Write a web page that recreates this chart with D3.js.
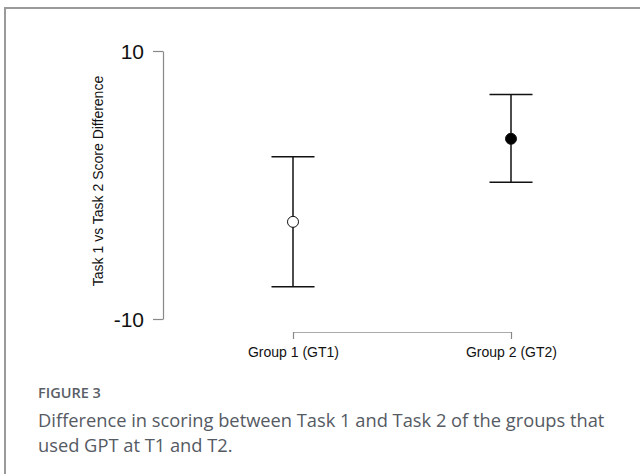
<!DOCTYPE html>
<html><head><meta charset="utf-8">
<script src="https://cdn.jsdelivr.net/npm/d3@7"></script>
<style>
html,body{margin:0;padding:0;background:#fff;}
svg{display:block;}
</style></head>
<body>
<svg id="chart" width="640" height="474"></svg>
<script>
const categories = ["Group 1 (GT1)", "Group 2 (GT2)"];
const means = [-2.75, 3.45];
const upper = [2.1, 6.75];
const lower = [-7.6, 0.2];
const filled = [false, true];
const yTicks = [-10, 10];
const yTitle = "Task 1 vs Task 2 Score Difference";
const figLabel = "FIGURE 3";
const captionLines = ["Difference in scoring between Task 1 and Task 2 of the groups that", "used GPT at T1 and T2."];

const svg = d3.select("#chart");

// frame
svg.append("path").attr("d", "M5,474 V8 H645").attr("fill", "none")
  .attr("stroke", "#9a9a9a").attr("stroke-width", 2);

const y = d3.scaleLinear().domain([-10, 10]).range([319, 51]);
const x = d3.scalePoint().domain(categories).range([293, 511]);

// y axis
const yAxis = svg.append("g").attr("transform", "translate(163,0)")
  .call(d3.axisLeft(y).tickValues(yTicks).tickFormat(d => String(d)).tickSize(10).tickSizeOuter(0).tickPadding(9));
yAxis.select(".domain").attr("stroke", "#888").attr("stroke-width", 1.2);
yAxis.selectAll(".tick line").attr("stroke", "#888").attr("stroke-width", 1.2);
yAxis.selectAll(".tick text").style("font-family", "'Liberation Sans', Arial, sans-serif").style("font-size", "21px").attr("fill", "#111").attr("dy", "0.35em");

// x axis
const xAxis = svg.append("g").attr("transform", "translate(0,332)")
  .call(d3.axisBottom(x).tickSize(7).tickSizeOuter(0).tickPadding(8));
xAxis.select(".domain").attr("stroke", "#aaa").attr("stroke-width", 1.2);
xAxis.selectAll(".tick line").attr("stroke", "#888").attr("stroke-width", 1.2);
xAxis.selectAll(".tick text").style("font-family", "'Liberation Sans', Arial, sans-serif").style("font-size", "14px").attr("fill", "#111");

// y title
svg.append("text").attr("transform", "translate(103,181) rotate(-90)")
  .attr("text-anchor", "middle").style("font-family", "'Liberation Sans', Arial, sans-serif")
  .style("font-size", "14px").attr("fill", "#111").text(yTitle);

// error bars
const data = categories.map((c, i) => ({c, m: means[i], u: upper[i], l: lower[i], f: filled[i]}));
const g = svg.append("g");
const capW = 21.5;
g.selectAll(".vline").data(data).join("line")
  .attr("x1", d => x(d.c)).attr("x2", d => x(d.c))
  .attr("y1", d => y(d.u)).attr("y2", d => y(d.l))
  .attr("stroke", "#111").attr("stroke-width", 1.5);
g.selectAll(".capu").data(data).join("line")
  .attr("x1", d => x(d.c) - capW).attr("x2", d => x(d.c) + capW)
  .attr("y1", d => y(d.u)).attr("y2", d => y(d.u))
  .attr("stroke", "#111").attr("stroke-width", 1.5);
g.selectAll(".capl").data(data).join("line")
  .attr("x1", d => x(d.c) - capW).attr("x2", d => x(d.c) + capW)
  .attr("y1", d => y(d.l)).attr("y2", d => y(d.l))
  .attr("stroke", "#111").attr("stroke-width", 1.5);
g.selectAll("circle").data(data).join("circle")
  .attr("cx", d => x(d.c)).attr("cy", d => y(d.m)).attr("r", 5.5)
  .attr("fill", d => d.f ? "#000" : "#fff").attr("stroke", "#111").attr("stroke-width", 1);

// caption
svg.append("text").attr("x", 38).attr("y", 398).style("font-family", "'Open Sans', sans-serif")
  .style("font-weight", 600).style("font-size", "14.5px").attr("fill", "#5a5e66").text(figLabel);
svg.selectAll(".cap").data(captionLines).join("text")
  .attr("x", 38).attr("y", (d, i) => 427 + i * 24.5)
  .style("font-family", "'Open Sans', sans-serif").style("font-size", "18.3px").attr("fill", "#555a63").text(d => d);
</script>
</body></html>
